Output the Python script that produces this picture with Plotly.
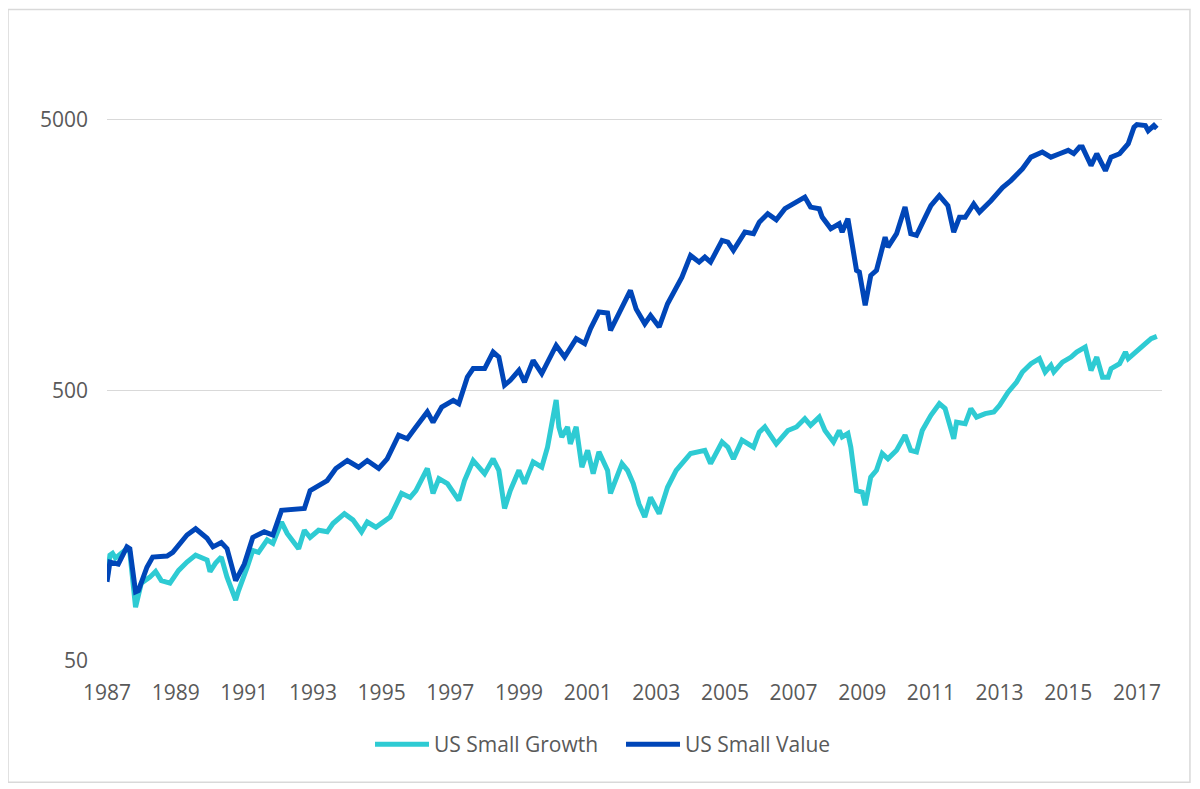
import plotly.graph_objects as go

# monthly index levels (log scale)
growth_dates = [
    "1987-01", "1987-02", "1987-03", "1987-04", "1987-08", "1987-09", "1987-11",
    "1988-01", "1988-04", "1988-06", "1988-08", "1988-11",
    "1989-02", "1989-05", "1989-08", "1989-12",
    "1990-01", "1990-03", "1990-05", "1990-07", "1990-10", "1990-11",
    "1991-02", "1991-04", "1991-06", "1991-09", "1991-11",
    "1992-02", "1992-04", "1992-08", "1992-10", "1992-12",
    "1993-03", "1993-06", "1993-08", "1993-12",
    "1994-03", "1994-06", "1994-08", "1994-11",
    "1995-04", "1995-08", "1995-11",
    "1996-01", "1996-05", "1996-07", "1996-09", "1996-12",
    "1997-04", "1997-06", "1997-09",
    "1998-01", "1998-04", "1998-06", "1998-08", "1998-10",
    "1999-01", "1999-03", "1999-06", "1999-09", "1999-11",
    "2000-02", "2000-03", "2000-04", "2000-06", "2000-07", "2000-09", "2000-11",
    "2001-01", "2001-03", "2001-05", "2001-08", "2001-09",
    "2002-01", "2002-03", "2002-05", "2002-07", "2002-09", "2002-11",
    "2003-02", "2003-05", "2003-08",
    "2004-01", "2004-04", "2004-06", "2004-08", "2004-12",
    "2005-02", "2005-04", "2005-07", "2005-11",
    "2006-01", "2006-03", "2006-07", "2006-11",
    "2007-02", "2007-05", "2007-07", "2007-10", "2007-12",
    "2008-03", "2008-05", "2008-06", "2008-08", "2008-09", "2008-11",
    "2009-01", "2009-02", "2009-04", "2009-06", "2009-08", "2009-10",
    "2010-01", "2010-04", "2010-06", "2010-08", "2010-10",
    "2011-01", "2011-04", "2011-06", "2011-09", "2011-10",
    "2012-01", "2012-03", "2012-05", "2012-08", "2012-11",
    "2013-01", "2013-04", "2013-07", "2013-09", "2013-12",
    "2014-03", "2014-05", "2014-07", "2014-08", "2014-11",
    "2015-02", "2015-04", "2015-07", "2015-09", "2015-11",
    "2016-01", "2016-03", "2016-04", "2016-07", "2016-09", "2016-10",
    "2017-01", "2017-04", "2017-06", "2017-08",
]
growth_values = [
    100, 123, 125, 120, 130, 126, 79,
    97, 102, 107, 99, 97,
    108, 116, 123, 118,
    107, 115, 121, 102, 84, 91,
    111, 128, 126, 140, 136,
    163, 148, 130, 152, 143,
    152, 150, 161, 175,
    166, 150, 163, 156,
    170, 208, 201,
    213, 257, 208, 236, 226,
    196, 232, 275,
    246, 279, 253, 183, 213,
    253, 226, 272, 260, 308,
    460, 366, 336, 366, 317, 366, 260,
    300, 246, 296, 253, 208,
    268, 253, 226, 190, 170, 201,
    175, 219, 253,
    292, 296, 300, 268, 322,
    308, 279, 327, 308,
    350, 366, 317, 355,
    366, 393, 371, 398, 355,
    322, 355, 336, 346, 308, 213,
    210, 188, 239, 253, 292, 279,
    300, 341, 300, 296, 355,
    404, 446, 428, 331, 381,
    376, 428, 398, 410, 416,
    440, 492, 536, 584, 627,
    654, 584, 618, 584, 635,
    663, 692, 722, 592, 663,
    559, 559, 601, 627, 692, 654,
    702, 743, 776, 791,
]

value_dates = [
    "1987-01", "1987-02", "1987-05", "1987-08", "1987-09", "1987-11", "1987-12",
    "1988-03", "1988-05", "1988-10", "1988-12",
    "1989-05", "1989-08", "1989-12",
    "1990-02", "1990-05", "1990-07", "1990-10",
    "1991-01", "1991-04", "1991-08", "1991-11",
    "1992-02", "1992-07", "1992-10", "1992-12",
    "1993-06", "1993-09",
    "1994-01", "1994-05", "1994-08", "1994-12",
    "1995-03", "1995-07", "1995-10",
    "1996-01", "1996-05", "1996-07", "1996-10",
    "1997-02", "1997-04", "1997-07", "1997-09",
    "1998-01", "1998-04", "1998-06", "1998-08", "1998-10",
    "1999-01", "1999-03", "1999-06", "1999-09",
    "2000-02", "2000-05", "2000-09", "2000-12",
    "2001-02", "2001-05", "2001-08", "2001-09",
    "2002-01", "2002-04", "2002-06", "2002-09", "2002-11",
    "2003-02", "2003-05", "2003-10",
    "2004-01", "2004-04", "2004-06", "2004-08", "2004-12",
    "2005-02", "2005-04", "2005-08", "2005-11",
    "2006-01", "2006-04", "2006-07", "2006-10",
    "2007-02", "2007-05", "2007-07", "2007-10", "2007-11",
    "2008-02", "2008-05", "2008-06", "2008-08", "2008-09", "2008-11", "2008-12",
    "2009-02", "2009-04", "2009-06", "2009-09", "2009-10",
    "2010-01", "2010-04", "2010-06", "2010-08", "2010-11",
    "2011-01", "2011-04", "2011-07", "2011-09", "2011-11",
    "2012-01", "2012-04", "2012-06", "2012-10",
    "2013-02", "2013-05", "2013-09", "2013-12",
    "2014-04", "2014-07", "2014-10",
    "2015-01", "2015-03", "2015-05", "2015-06", "2015-09", "2015-11",
    "2016-02", "2016-04", "2016-07", "2016-10", "2016-12",
    "2017-01", "2017-04", "2017-05", "2017-07", "2017-08",
]
value_values = [
    98, 116, 114, 132, 130, 90, 91,
    111, 121, 122, 126,
    146, 154, 142,
    132, 137, 130, 99,
    114, 143, 150, 146,
    180, 183, 183, 213,
    232, 257,
    275, 260, 275, 257,
    279, 341, 331,
    366, 416, 381, 433,
    459, 446, 559, 601,
    601, 692, 663, 522, 544,
    592, 536, 645, 576,
    732, 663, 776, 743,
    845, 973, 965, 832,
    1014, 1169, 997, 880, 944,
    856, 1044, 1309,
    1574, 1487, 1552, 1487, 1788,
    1763, 1643, 1919, 1893,
    2089, 2243, 2130, 2342,
    2476, 2585, 2374, 2342, 2181,
    1977, 2060, 1919, 2150, 1815, 1385, 1366,
    1029, 1327, 1385, 1837, 1690,
    1893, 2374, 1893, 1867, 2176,
    2403, 2616, 2403, 1919, 2176,
    2176, 2437, 2275, 2505,
    2803, 2974, 3287, 3631,
    3790, 3631, 3737,
    3845, 3740, 3955, 3955, 3380, 3737,
    3235, 3631, 3737, 4073, 4681,
    4790, 4750, 4547, 4750, 4633,
]

y_ticks = [50, 500, 5000]
y_tick_labels = ["50", "500", "5000"]

GROWTH_COLOR = "#2ECBD3"
VALUE_COLOR = "#0046B8"
TEXT_COLOR = "#595959"
GRID_COLOR = "#D9D9D9"
FONT = "Open Sans"
FONT_SIZE = 21

fig = go.Figure()

fig.add_trace(go.Scatter(
    x=growth_dates,
    y=growth_values,
    mode="lines",
    name="US Small Growth",
    line=dict(color=GROWTH_COLOR, width=5)
))

fig.add_trace(go.Scatter(
    x=value_dates,
    y=value_values,
    mode="lines",
    name="US Small Value",
    line=dict(color=VALUE_COLOR, width=5)
))

fig.update_xaxes(
    type="date",
    range=["1987-01-01", "2017-09-25"],
    tick0="1987-01-01",
    dtick="M24",
    tickformat="%Y",
    showgrid=False,
    zeroline=False,
    showline=False,
    ticks="",
    ticklabelstandoff=17,
    tickfont=dict(family=FONT, size=FONT_SIZE, color=TEXT_COLOR)
)

fig.update_yaxes(
    type="log",
    range=[1.69897, 4.0],
    tickvals=y_ticks,
    ticktext=y_tick_labels,
    showgrid=True,
    gridcolor=GRID_COLOR,
    gridwidth=1,
    zeroline=False,
    showline=False,
    ticks="",
    ticklabelstandoff=18,
    tickfont=dict(family=FONT, size=FONT_SIZE, color=TEXT_COLOR)
)

# light grey frame around the whole chart
fig.add_shape(
    type="rect",
    xref="paper", yref="paper",
    x0=-0.0938, x1=1.0265, y0=-0.1946, y1=1.0457,
    line=dict(color=GRID_COLOR, width=1.5),
    fillcolor="rgba(0,0,0,0)",
    layer="below"
)

fig.update_layout(
    width=1200,
    height=789,
    margin=dict(l=99, r=46, t=29.5, b=136.3),
    paper_bgcolor="white",
    plot_bgcolor="white",
    font=dict(family=FONT, size=FONT_SIZE, color=TEXT_COLOR),
    showlegend=True,
    legend=dict(
        orientation="h",
        x=0.2493,
        xanchor="left",
        y=-0.134,
        yanchor="middle",
        itemwidth=54,
        entrywidth=182,
        entrywidthmode="pixels",
        font=dict(family=FONT, size=FONT_SIZE, color=TEXT_COLOR),
        tracegroupgap=0
    )
)

fig.write_html("out.html")
